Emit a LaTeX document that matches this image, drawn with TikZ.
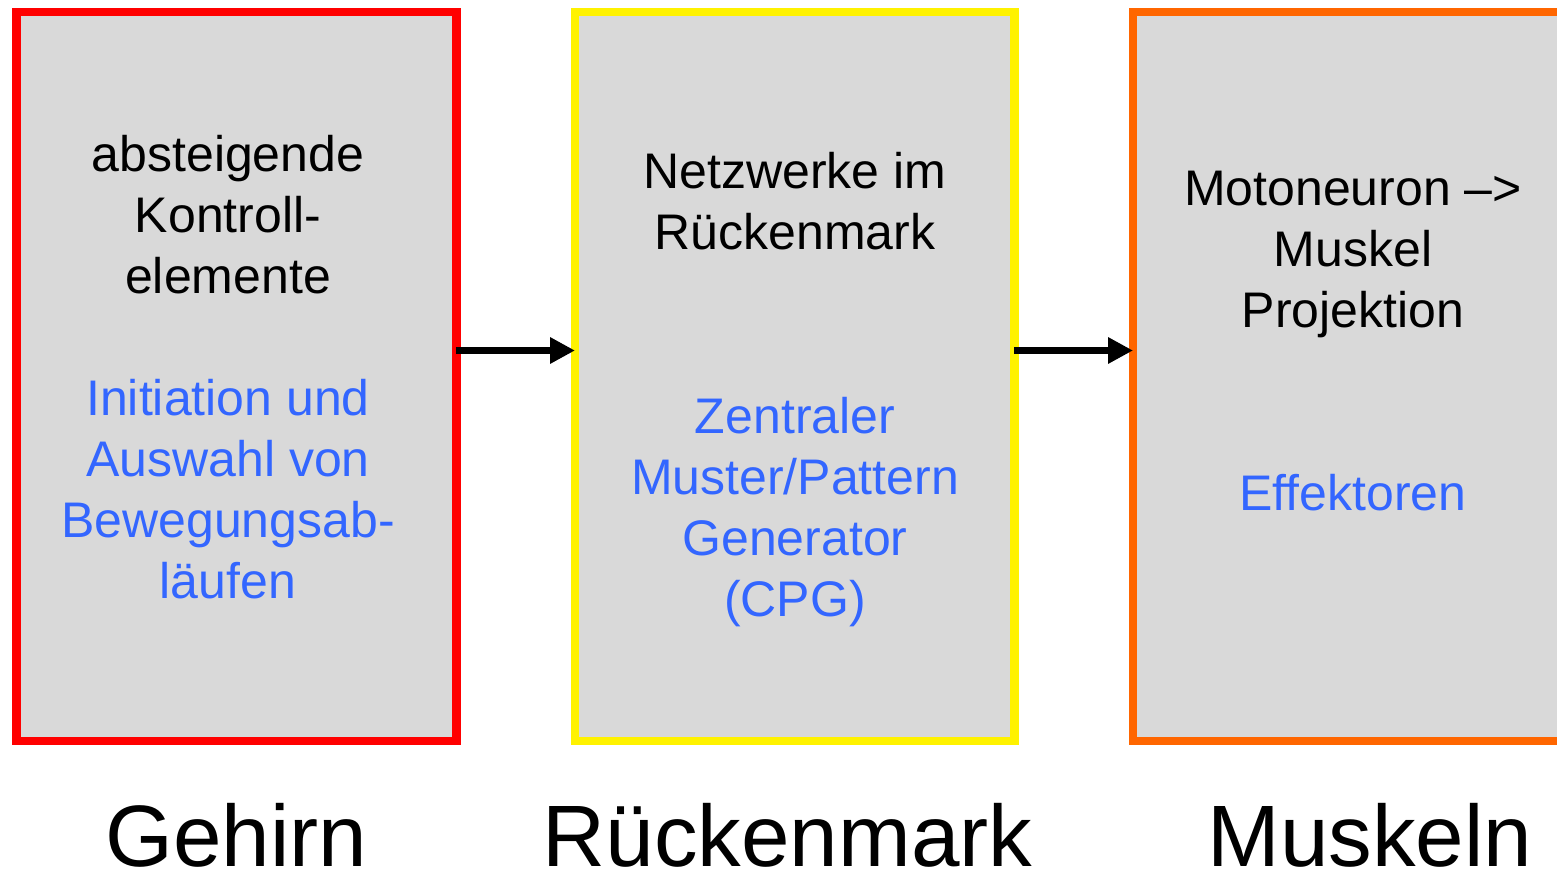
\documentclass[tikz,border=0pt]{standalone}
\usepackage{fontspec}
\setmainfont{Liberation Sans}
\usetikzlibrary{arrows.meta}
\definecolor{boxfill}{HTML}{D9D9D9}
\definecolor{bluetext}{HTML}{3366FF}
\definecolor{boxorange}{HTML}{FF6600}
\begin{document}
\begin{tikzpicture}[x=0.5pt,y=-0.5pt,
  box/.style={rectangle, fill=boxfill, line width=4.25pt, minimum height=364.5pt, inner sep=0pt, outer sep=0pt},
  bodytext/.style={anchor=base, align=center, inner sep=0pt, font=\fontsize{25}{30.5}\selectfont},
  bluebody/.style={bodytext, text=bluetext},
  bigtext/.style={anchor=base, inner sep=0pt, text depth=0pt, font=\fontsize{43.6}{50}\selectfont},
  arr/.style={line width=3.85pt, -{Triangle[length=12.5pt,width=12.5pt]}}]
\useasboundingbox (0,0) rectangle (1557,871);
\node[box, draw=red, minimum width=219.95pt] (gehirnbox) at (236.45,376.5) {};
\node[box, draw=yellow, minimum width=219.7pt] (rueckbox) at (794.7,376.5) {};
\node[box, draw=boxorange, minimum width=220pt] (muskelbox) at (1353,376.5) {};
\coordinate (ay) at (0,350.5);
\draw[arr] (gehirnbox.east |- ay) -- (rueckbox.west |- ay);
\draw[arr] (rueckbox.east |- ay) -- (muskelbox.west |- ay);
\node[bodytext] (t1a) at (228,294) {absteigende\\Kontroll-\\elemente};
\node[bluebody] (t1b) at (228,598) {Initiation und\\Auswahl von\\Bewegungsab-\\läufen};
\node[bodytext] (t2a) at (795,250) {Netzwerke im\\Rückenmark};
\node[bluebody] (t2b) at (795,616) {Zentraler\\Muster/Pattern\\Generator\\(CPG)};
\node[bodytext] (t3a) at (1353,328) {Motoneuron –>\\Muskel\\Projektion};
\node[bluebody] (t3b) at (1353,510) {Effektoren};
\node[bigtext] (l1) at (236.5,866) {Gehirn};
\node[bigtext] (l2) at (787.5,866) {Rückenmark};
\node[bigtext] (l3) at (1370,866) {Muskeln};
\end{tikzpicture}
\end{document}
